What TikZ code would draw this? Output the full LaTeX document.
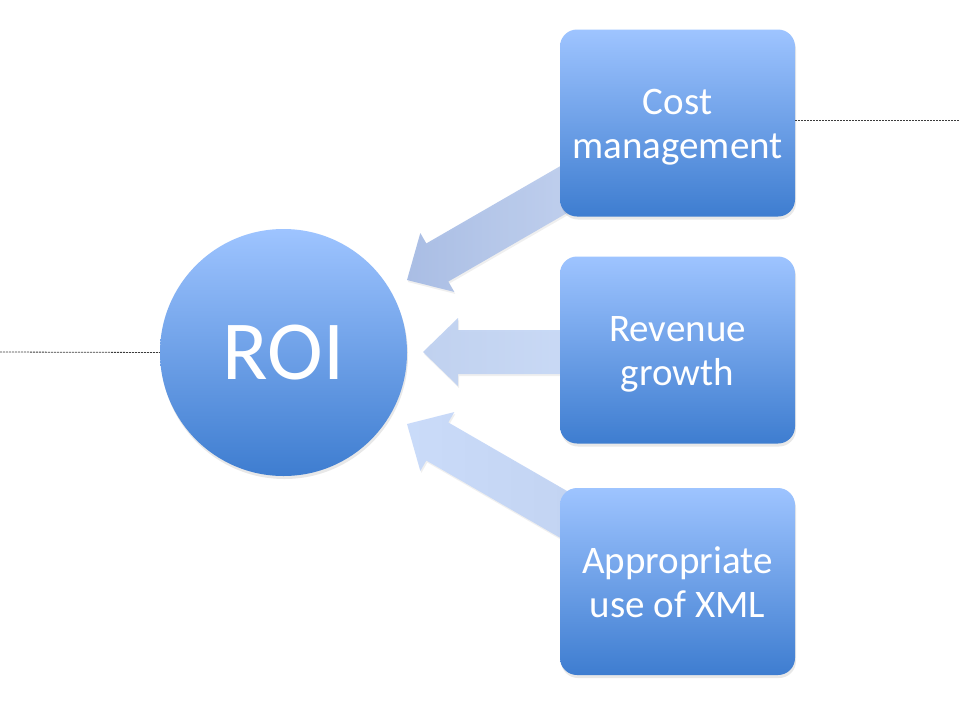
\documentclass[tikz,border=0pt]{standalone}
\usepackage{fontspec}
\setmainfont{Carlito}
\usetikzlibrary{shadows}
\definecolor{gtop}{RGB}{158,196,255}
\definecolor{gmid}{RGB}{122,167,238}
\definecolor{gbot}{RGB}{62,125,208}
\definecolor{dashc}{RGB}{60,60,60}
\tikzset{
  blockbox/.style={rectangle, rounded corners=17pt, minimum width=235pt, minimum height=187pt,
    top color=gtop, middle color=gmid, bottom color=gbot, text=white, align=center,
    font=\fontsize{39}{44}\selectfont, inner sep=0pt,
    drop shadow={opacity=0.18, shadow xshift=1pt, shadow yshift=-3pt}},
  roicircle/.style={circle, minimum size=247pt, inner sep=0pt,
    top color=gtop, middle color=gmid, bottom color=gbot, text=white,
    font=\fontsize{84}{90}\selectfont,
    drop shadow={opacity=0.18, shadow xshift=1pt, shadow yshift=-3pt}},
  dashline/.style={draw=dashc, line width=0.8pt, dash pattern=on 2pt off 1pt},
  blockarrow/.style={draw=none, fill opacity=0.95,
    drop shadow={opacity=0.12, shadow xshift=1pt, shadow yshift=-2pt}}
}
\newcommand{\arrowpath}{(0,0) -- (35,-34) -- (35,-22) -- (200,-22) -- (200,22) -- (35,22) -- (35,34) -- cycle}
\newcommand{\boxtext}[2]{\raisebox{-5pt}[\height][\depth]{\begin{tabular}{@{}c@{}}#1\\#2\end{tabular}}}
\begin{document}
\begin{tikzpicture}[x=1pt,y=-1pt]
\useasboundingbox (0,0) rectangle (960,720);
\fill[white] (0,0) rectangle (960,720);
% block arrows
\begin{scope}[shift={(407,280)}, rotate=30]
  \path[blockarrow, left color={rgb,255:red,166;green,187;blue,228}, right color={rgb,255:red,192;green,208;blue,238}] \arrowpath;
\end{scope}
\begin{scope}[shift={(423,352)}]
  \path[blockarrow, left color={rgb,255:red,190;green,208;blue,240}, right color={rgb,255:red,202;green,219;blue,248}] \arrowpath;
\end{scope}
\begin{scope}[shift={(407,424)}, rotate=-30]
  \path[blockarrow, left color={rgb,255:red,200;green,218;blue,250}, right color={rgb,255:red,192;green,210;blue,242}] \arrowpath;
\end{scope}
% nodes
\node[roicircle] (roi) at (283.5,352.5) {ROI};
\node[blockbox] (cost) at (677.5,123) {\boxtext{Cost}{management}};
\node[blockbox] (rev) at (677.5,350) {\boxtext{Revenue}{growth}};
\node[blockbox] (xml) at (677.5,581.5) {\boxtext{Appropriate}{use of XML}};
% dashed lines
\coordinate (lend) at (0,352);
\coordinate (rend) at (960,120);
\draw[dashline] (lend) -- (roi.west);
\draw[dashline] (cost.east |- rend) -- (rend);
\end{tikzpicture}
\end{document}
